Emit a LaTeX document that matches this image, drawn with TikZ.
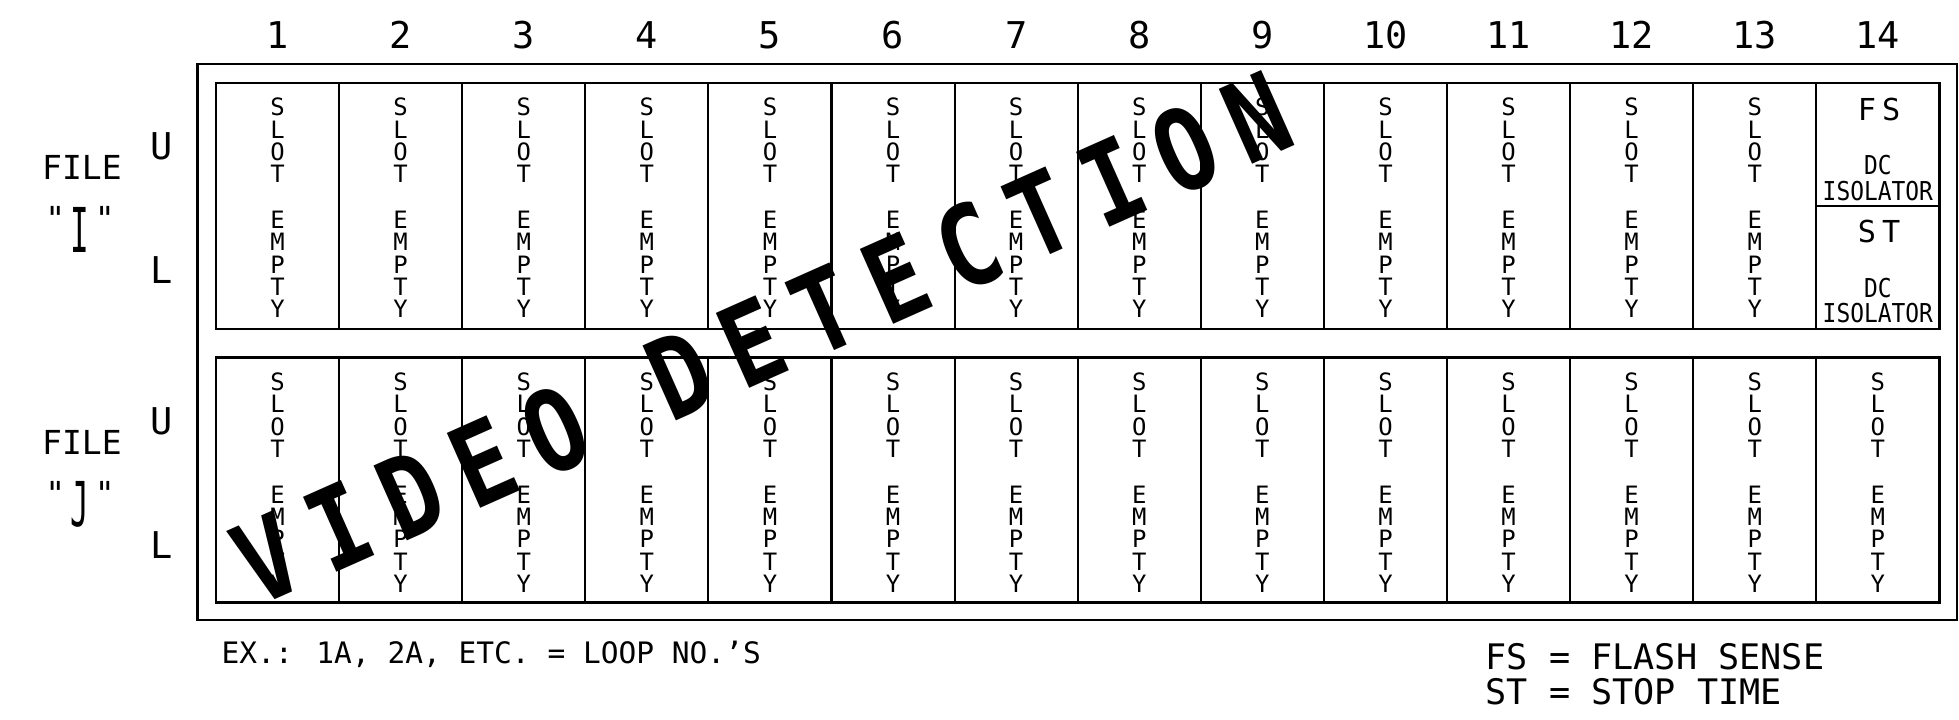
\documentclass[tikz,border=0pt]{standalone}
\usepackage{fontspec}
\usepackage{graphicx}
\setmainfont{DejaVu Sans Mono}[Ligatures=TeXOff]
\newfontfamily\narrowcad{DejaVu Sans Mono}[FakeStretch=0.88]
\newfontfamily\widecad{DejaVu Sans Mono}[FakeStretch=0.85,LetterSpace=19]
\newcommand{\fsz}[1]{\fontsize{#1}{#1}\selectfont}

\begin{document}
\begin{tikzpicture}[
  rackline/.style={line width=0.75pt},
  divider/.style={line width=0.6pt},
  colnum/.style={inner sep=0pt,font=\fsz{10.5}},
  sidelabel/.style={inner sep=0pt,font=\fsz{10.5}},
  filelabel/.style={inner sep=0pt,font=\fsz{9.4}},
  slotword/.style={anchor=north,align=center,inner sep=0pt,font=\fontsize{6.8}{6.35}\selectfont},
  cellhead/.style={inner sep=0pt,font=\fsz{8.6}\addfontfeature{LetterSpace=20}},
  cellnote/.style={inner sep=0pt,font=\narrowcad\fsz{7.4}},
  keytext/.style={anchor=west,inner sep=0pt},
  bigword/.style={inner sep=0pt,font=\widecad\bfseries\fsz{32}}]
\useasboundingbox (0,0) rectangle (19.59,7.2);

% rack outline
\draw[rackline] (1.975,1.0) rectangle (19.57,6.56);
\draw[rackline] (2.16,3.91) rectangle (19.394,6.37);
\draw[rackline] (2.16,1.175) rectangle (19.394,3.625);
\foreach \c in {1,...,13}{
  \draw[divider] ({2.16+1.231*\c},6.37) -- ({2.16+1.231*\c},3.91);
  \draw[divider] ({2.16+1.231*\c},3.625) -- ({2.16+1.231*\c},1.175);
}
\draw[divider] (18.163,5.14) -- (19.394,5.14);

% column numbers and empty slots
\foreach \c in {1,...,14}{
  \node[colnum] (num\c) at ({2.16+1.231*(\c-0.5)},6.85) {\c};
  \node[slotword] (slotJ\c) at ({2.16+1.231*(\c-0.5)},3.48) {S\\L\\O\\T};
  \node[slotword] (emptyJ\c) at ({2.16+1.231*(\c-0.5)},2.35) {E\\M\\P\\T\\Y};
}
\foreach \c in {1,...,13}{
  \node[slotword] (slotI\c) at ({2.16+1.231*(\c-0.5)},6.225) {S\\L\\O\\T};
  \node[slotword] (emptyI\c) at ({2.16+1.231*(\c-0.5)},5.095) {E\\M\\P\\T\\Y};
}

% slot 14 of file I
\node[cellhead] (fsI) at (18.79,6.10) {FS};
\node[cellnote] (dcI) at (18.7785,5.55) {DC};
\node[cellnote] (isoI) at (18.7785,5.29) {ISOLATOR};
\node[cellhead] (stI) at (18.79,4.88) {ST};
\node[cellnote] (dcII) at (18.7785,4.32) {DC};
\node[cellnote] (isoII) at (18.7785,4.07) {ISOLATOR};

% file labels
\node[filelabel] (fileI) at (0.82,5.53) {FILE};
\node[filelabel] (nameI) at (0.80,4.905) {\raisebox{6pt}{"}\,\scalebox{0.5}[1]{\fsz{17.6}I}\,\raisebox{6pt}{"}};
\node[sidelabel] (upI) at (1.62,5.735) {U};
\node[sidelabel] (lowI) at (1.62,4.50) {L};
\node[filelabel] (fileJ) at (0.82,2.78) {FILE};
\node[filelabel] (nameJ) at (0.80,2.16) {\raisebox{6pt}{"}\,\scalebox{0.5}[1]{\fsz{17.6}J}\,\raisebox{6pt}{"}};
\node[sidelabel] (upJ) at (1.62,2.985) {U};
\node[sidelabel] (lowJ) at (1.62,1.75) {L};

% notes
\node[keytext,font=\fsz{8.4}] (example) at (2.21,0.66) {EX.: 1A, 2A, ETC. = LOOP NO.’S};
\node[keytext,font=\fsz{10}] (fsKey) at (14.85,0.63) {FS = FLASH SENSE};
\node[keytext,font=\fsz{10}] (stKey) at (14.85,0.28) {ST = STOP TIME};

\node[bigword,rotate=24] (title) at (7.62,3.82) {VIDEO DETECTION};
\end{tikzpicture}
\end{document}
